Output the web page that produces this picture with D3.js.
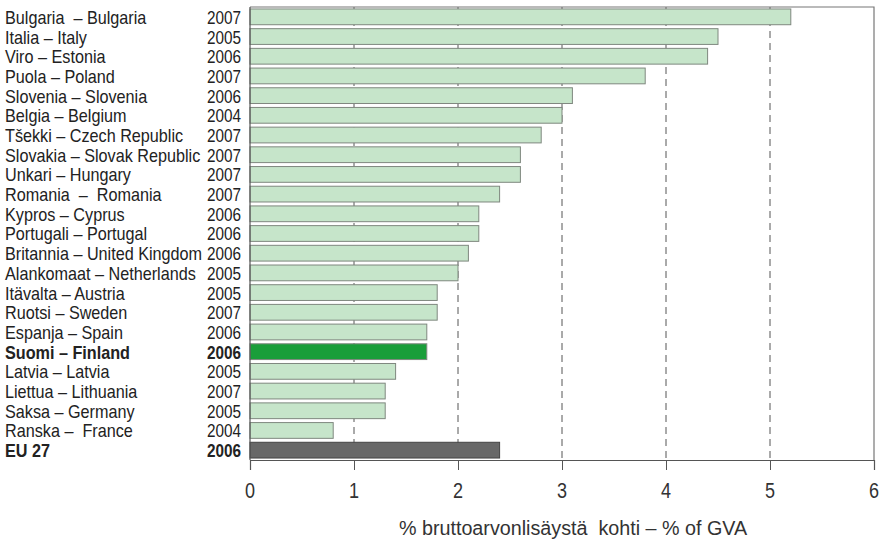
<!DOCTYPE html>
<html><head><meta charset="utf-8">
<script src="https://cdn.jsdelivr.net/npm/d3@7"></script>
<style>body{margin:0;background:#fff} text{white-space:pre}</style>
</head><body>
<svg id="c" width="884" height="541"></svg>
<script>
const countries = ["Bulgaria  – Bulgaria","Italia – Italy","Viro – Estonia","Puola – Poland","Slovenia – Slovenia","Belgia – Belgium","Tšekki – Czech Republic","Slovakia – Slovak Republic","Unkari – Hungary","Romania  –  Romania","Kypros – Cyprus","Portugali – Portugal","Britannia – United Kingdom","Alankomaat – Netherlands","Itävalta – Austria","Ruotsi – Sweden","Espanja – Spain","Suomi – Finland","Latvia – Latvia","Liettua – Lithuania","Saksa – Germany","Ranska –  France","EU 27"];
const years = ["2007","2005","2006","2007","2006","2004","2007","2007","2007","2007","2006","2006","2006","2005","2005","2007","2006","2006","2005","2007","2005","2004","2006"];
const values = [5.2,4.5,4.4,3.8,3.1,3.0,2.8,2.6,2.6,2.4,2.2,2.2,2.1,2.0,1.8,1.8,1.7,1.7,1.4,1.3,1.3,0.8,2.4];
const highlight = {"Suomi – Finland":"fin","EU 27":"eu"};
const xTicks = [0,1,2,3,4,5,6];
const xTitle = "% bruttoarvonlisäystä  kohti – % of GVA";

const svg = d3.select("#c");
const L=250, R=874, T=7, B=460;
const x = d3.scaleLinear().domain([0,6]).range([L,R]);
const y = d3.scaleBand().domain(countries).range([T,B]).paddingInner(0.2).paddingOuter(0.1);
const font = "'Liberation Sans',Arial,sans-serif";

function ntext(g, tx, ty, str, size, opts={}) {
  return g.append("text")
    .attr("transform",`translate(${tx},${ty}) scale(${opts.sx||0.86},1)`)
    .attr("dy","0.36em").attr("font-family",font).attr("font-size",size)
    .attr("fill",opts.fill||"#222").attr("font-weight",opts.bold?"bold":"normal")
    .attr("text-anchor",opts.anchor||"start").text(str);
}

// grid
svg.append("g").selectAll("line").data([1,2,3,4,5]).join("line")
  .attr("x1",d=>x(d)).attr("x2",d=>x(d)).attr("y1",T).attr("y2",B)
  .attr("stroke","#555").attr("stroke-width",1).attr("stroke-dasharray","7,5");

// frame
svg.append("path").attr("d",`M${L},${T}H${R}V${B}`).attr("fill","none").attr("stroke","#777").attr("stroke-width",1.2);

// bars
svg.append("g").selectAll("rect").data(countries).join("rect")
  .attr("x",x(0)).attr("y",d=>y(d)).attr("height",y.bandwidth())
  .attr("width",(d,i)=>x(values[i])-x(0))
  .attr("fill",d=>highlight[d]==="fin"?"#1a9e3a":highlight[d]==="eu"?"#686868":"#c6e5ca")
  .attr("stroke",d=>highlight[d]==="eu"?"#444":"#7f887f").attr("stroke-width",1);

// axes
const ax = svg.append("g").attr("transform",`translate(0,${B})`)
  .call(d3.axisBottom(x).tickValues(xTicks).tickSize(10).tickFormat(""));
ax.select(".domain").attr("stroke","#555").attr("stroke-width",1.2);
ax.selectAll(".tick line").attr("stroke","#555");
svg.append("line").attr("x1",L).attr("x2",L).attr("y1",T).attr("y2",B).attr("stroke","#555").attr("stroke-width",1.2);
const tl = svg.append("g");
xTicks.forEach(t=>ntext(tl, x(t), 490, d3.format("d")(t), 22, {anchor:"middle", fill:"#333", sx:0.82}));

// labels
const lab = svg.append("g");
countries.forEach((c,i)=>{
  const cy = y(c)+y.bandwidth()/2 + 0.5;
  ntext(lab, 5, cy, c, 18, {bold:!!highlight[c], sx:0.90});
  ntext(lab, 207, cy, years[i], 18, {bold:!!highlight[c], sx:0.85});
});

ntext(svg, 573, 527, xTitle, 21, {anchor:"middle", fill:"#333", sx:0.94});
</script>
</body></html>
